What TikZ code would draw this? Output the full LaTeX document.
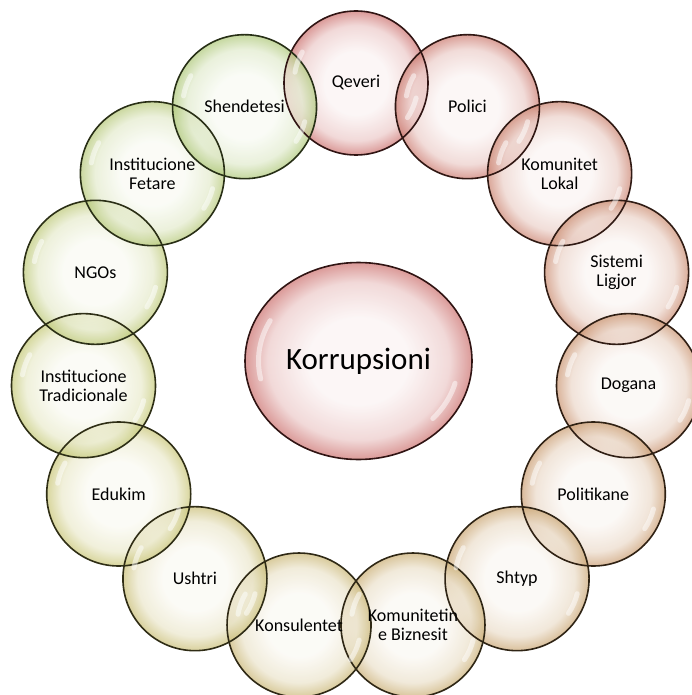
\documentclass[tikz,border=0pt]{standalone}
\usepackage{fontspec}
\setmainfont{Carlito}
\usetikzlibrary{shapes.geometric}
\colorlet{bubin}{white}\colorlet{bubmid}{white}\colorlet{bubout}{white}\colorlet{bubline}{black}
\pgfdeclareradialshading[bubin,bubmid,bubout]{bubble}{\pgfpoint{0bp}{0bp}}{color(0bp)=(bubin); color(11bp)=(bubin); color(20bp)=(bubmid); color(25bp)=(bubout); color(50bp)=(bubout)}
\tikzset{
  bubidx/.code={%
    \pgfmathsetmacro\bubhue{1.6+78*#1/14}%
    \pgfmathsetmacro\bubsat{0.60-0.076*#1/14}%
    \pgfmathsetmacro\bubbri{0.753-0.02*#1/14}%
    \definecolor{bubhsb}{Hsb}{\bubhue,\bubsat,\bubbri}%
    \colorlet{bubbase}[rgb]{bubhsb}%
    \colorlet{bubin}[rgb]{bubbase!7!white}%
    \colorlet{bubmid}[rgb]{bubbase!30!white}%
    \colorlet{bubout}[rgb]{bubbase!80!white}%
    \colorlet{bubline}[rgb]{bubbase!25!black}},
  bub/.style={circle, minimum size=144pt, inner sep=0pt, shade, shading=bubble, fill opacity=0.72},
  rim/.style={draw=bubline, line width=1.6pt},
  gloss/.style={draw=white, line width=5pt, line cap=round, opacity=0.5},
  lbl/.style={font=\fontsize{18}{19.5}\selectfont, align=center, text=black, inner sep=0pt},
}
\begin{document}
\begin{tikzpicture}
\useasboundingbox (0pt,0pt) rectangle (692pt,-695pt);
\clip (0pt,0pt) rectangle (692pt,-695pt);
\coordinate (ring) at (356pt,-357pt);
\foreach \i in {0,...,14}{
  \pgfmathsetmacro\ang{90-24*\i}
  \node[bub, bubidx=\i] (b\i) at ([shift={(\ang:274pt)}]ring) {};
}
\node[ellipse, minimum width=227pt, minimum height=197pt, inner sep=0pt, shade, shading=bubble, bubidx=0, fill opacity=0.72] (core) at (358.5pt,-361pt) {};
\foreach \i in {0,...,14}{
  \draw[bubidx=\i, rim] (b\i.center) circle[radius=72pt];
}
\draw[bubidx=0, rim] (core.center) ellipse[x radius=113.5pt, y radius=98.5pt];
\foreach \i in {0,...,14}{
  \draw[gloss] (b\i.center) ++(150:62pt) arc[start angle=150, end angle=170, radius=62pt];
  \draw[gloss] (b\i.center) ++(-14:62pt) arc[start angle=-14, end angle=-34, radius=62pt];
}
\draw[gloss] (core.center) ++(152:100pt and 86pt) arc[start angle=152, end angle=192, x radius=100pt, y radius=86pt];
\draw[gloss] (core.center) ++(-15:100pt and 86pt) arc[start angle=-15, end angle=-42, x radius=100pt, y radius=86pt];
\foreach \i/\t in {0/Qeveri, 1/Polici, 2/{Komunitet\\Lokal}, 3/{Sistemi\\Ligjor}, 4/Dogana, 5/Politikane, 6/Shtyp, 7/{Komunitetin\\e Biznesit}, 8/Konsulentet, 9/Ushtri, 10/Edukim, 11/{Institucione\\Tradicionale}, 12/NGOs, 13/{Institucione\\Fetare}, 14/Shendetesi}{
  \node[lbl] (t\i) at (b\i) {\t};
}
\node[font=\fontsize{31}{36}\selectfont, inner sep=0pt] (coret) at (core) {Korrupsioni};
\end{tikzpicture}
\end{document}
